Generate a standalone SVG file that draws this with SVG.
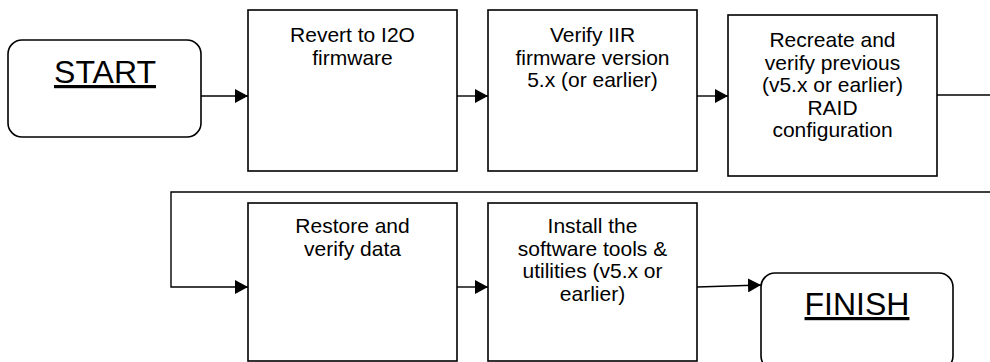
<svg xmlns="http://www.w3.org/2000/svg" width="990" height="362" viewBox="0 0 990 362">
<style>
.box{fill:#fff;stroke:#000;stroke-width:1.6}
.t{font-family:"Liberation Sans",Arial,sans-serif;font-size:21px;fill:#000;text-anchor:middle}
.big{font-family:"Liberation Sans",Arial,sans-serif;font-size:32px;fill:#000;text-anchor:middle;text-decoration:underline}
.c{fill:none;stroke:#000;stroke-width:1.4}
</style>
<defs>
<marker id="ah" markerWidth="13" markerHeight="14" refX="13" refY="7" orient="auto" markerUnits="userSpaceOnUse">
<path d="M0,0 L13,7 L0,14 Z" fill="#000"/>
</marker>
</defs>
<rect width="990" height="362" fill="#fff"/>
<g id="start">
<rect class="box" x="8" y="40" width="193" height="97" rx="14"/>
<text class="big" x="105" y="83">START</text>
</g>
<g id="n1">
<rect class="box" x="248" y="10" width="209" height="161"/>
<text class="t" x="352.5" y="42">Revert to I2O</text>
<text class="t" x="352.5" y="64.5">firmware</text>
</g>
<g id="n2">
<rect class="box" x="488" y="10" width="209" height="161"/>
<text class="t" x="592.5" y="42">Verify IIR</text>
<text class="t" x="592.5" y="64.5">firmware version</text>
<text class="t" x="592.5" y="87">5.x (or earlier)</text>
</g>
<g id="n3">
<rect class="box" x="728" y="15" width="209" height="161"/>
<text class="t" x="832.5" y="47">Recreate and</text>
<text class="t" x="832.5" y="69.5">verify previous</text>
<text class="t" x="832.5" y="92">(v5.x or earlier)</text>
<text class="t" x="832.5" y="114.5">RAID</text>
<text class="t" x="832.5" y="137">configuration</text>
</g>
<g id="n4">
<rect class="box" x="248" y="203" width="209" height="158"/>
<text class="t" x="352.5" y="233">Restore and</text>
<text class="t" x="352.5" y="255.5">verify data</text>
</g>
<g id="n5">
<rect class="box" x="488" y="203" width="209" height="158"/>
<text class="t" x="592.5" y="233">Install the</text>
<text class="t" x="592.5" y="255.5">software tools &amp;</text>
<text class="t" x="592.5" y="278">utilities (v5.x or</text>
<text class="t" x="592.5" y="300.5">earlier)</text>
</g>
<g id="finish">
<rect class="box" x="761" y="273" width="192" height="97" rx="14"/>
<text class="big" x="857" y="315">FINISH</text>
</g>
<g id="connectors">
<line class="c" x1="201" y1="96" x2="248" y2="96" marker-end="url(#ah)"/>
<line class="c" x1="457" y1="96" x2="488" y2="96" marker-end="url(#ah)"/>
<line class="c" x1="697" y1="96" x2="728" y2="96" marker-end="url(#ah)"/>
<line class="c" x1="937" y1="95" x2="992" y2="95"/>
<polyline class="c" points="992,192 171,192 171,287 248,287" marker-end="url(#ah)"/>
<line class="c" x1="457" y1="287" x2="488" y2="287" marker-end="url(#ah)"/>
<line class="c" x1="697" y1="287" x2="761" y2="285" marker-end="url(#ah)"/>
</g>
</svg>
